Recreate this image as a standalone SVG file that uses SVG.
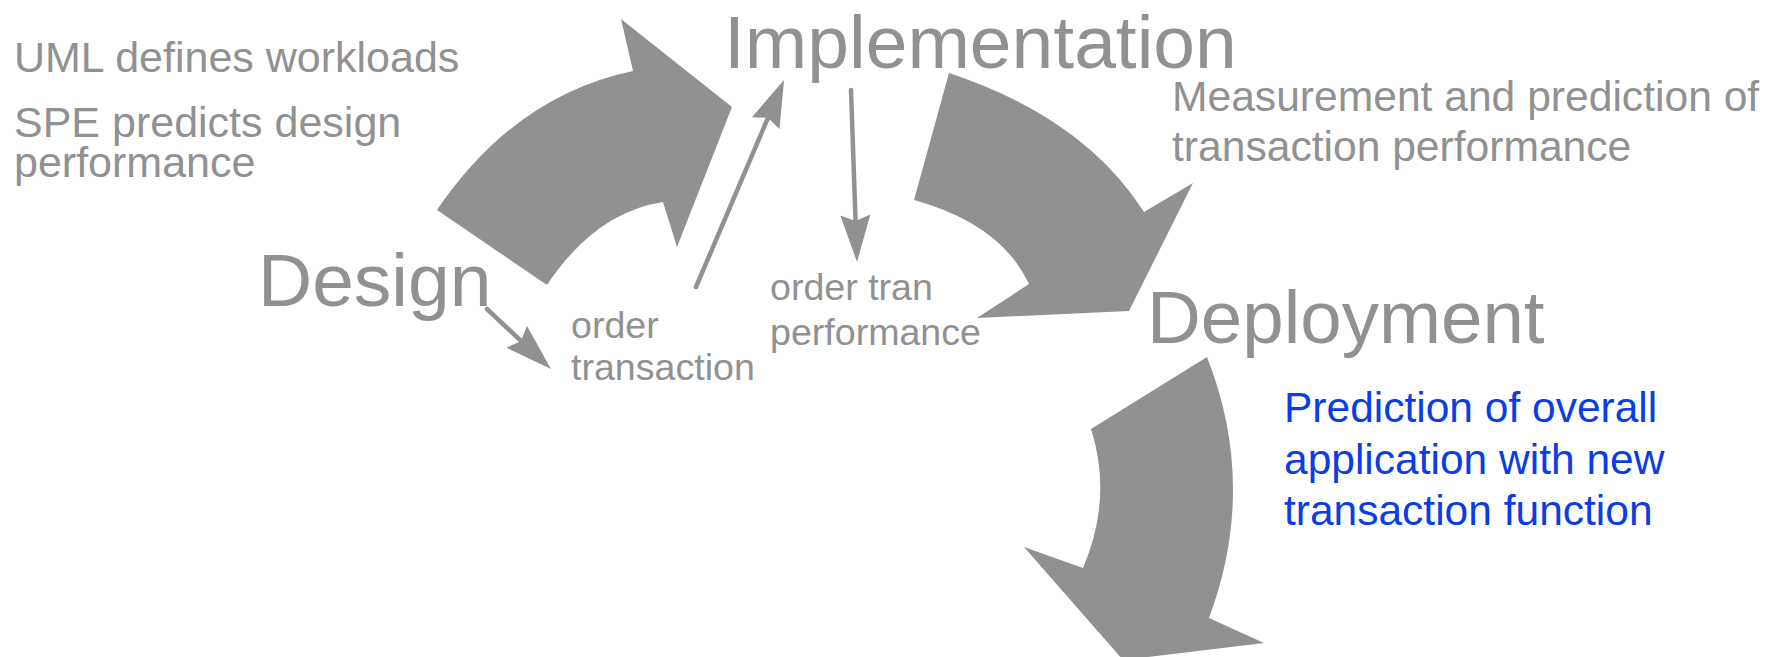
<svg xmlns="http://www.w3.org/2000/svg" width="1777" height="657" viewBox="0 0 1777 657">
<style>
.g{fill:#919191;font-family:"Liberation Sans",Arial,sans-serif}
.big{font-size:75px}
.mid{font-size:43px}
.note{font-size:42.6px}
.sm{font-size:37.6px}
.blue{fill:#0a3de6;font-family:"Liberation Sans",Arial,sans-serif;font-size:42.5px}
.band{fill:#919191;stroke:none}
.thin{stroke:#919191;stroke-width:4.5;fill:none;stroke-linecap:round}
</style>
<defs>
<marker id="head" viewBox="0 0 47 30" markerUnits="userSpaceOnUse" markerWidth="47" markerHeight="30" refX="7" refY="15" orient="auto">
<path d="M0,0 L47,15 L0,30 L6,15 Z" fill="#919191"/>
</marker>
</defs>
<g id="connectors">
<path id="arrow-design-impl" class="band" d="M437,210 Q515,95.5 633,71 L621,19 L732,107 L677,247 L663,202 Q595,212.5 547,285 Z"/>
<path id="arrow-impl-deploy" class="band" d="M949,73 Q1083.5,117.5 1144,212 L1193,183 L1129,311 L977,318 L1029,284 Q1001,224 914,200 Z"/>
<path id="arrow-deploy-out" class="band" d="M1207,357 Q1258,486.5 1209,618 L1264,643 L1123,660 L1024,547 L1083,568 Q1113,497.5 1091,429 Z"/>
<line class="thin" x1="487" y1="309" x2="521.8" y2="341.6" marker-end="url(#head)"/>
<line class="thin" x1="696" y1="287" x2="768.4" y2="116.8" marker-end="url(#head)"/>
<line class="thin" x1="851" y1="90" x2="855.6" y2="222" marker-end="url(#head)"/>
</g>
<g id="note-design">
<text class="g mid" x="14" y="72">UML defines workloads</text>
<text class="g mid" x="14" y="137">SPE predicts design</text>
<text class="g mid" x="14" y="177">performance</text>
</g>
<g id="design"><text class="g big" x="258" y="306">Design</text></g>
<g id="implementation"><text class="g big" x="724" y="68">Implementation</text></g>
<g id="deployment"><text class="g big" x="1147" y="343" style="font-size:74.5px">Deployment</text></g>
<g id="order-transaction">
<text class="g sm" x="571" y="338">order</text>
<text class="g sm" x="571" y="380">transaction</text>
</g>
<g id="order-tran-performance">
<text class="g sm" x="770" y="300">order tran</text>
<text class="g sm" x="770" y="345">performance</text>
</g>
<g id="note-impl">
<text class="g note" x="1172" y="111">Measurement and prediction of</text>
<text class="g note" x="1172" y="161">transaction performance</text>
</g>
<g id="note-deploy">
<text class="blue" x="1284" y="422">Prediction of overall</text>
<text class="blue" x="1284" y="474">application with new</text>
<text class="blue" x="1284" y="525">transaction function</text>
</g>
</svg>
